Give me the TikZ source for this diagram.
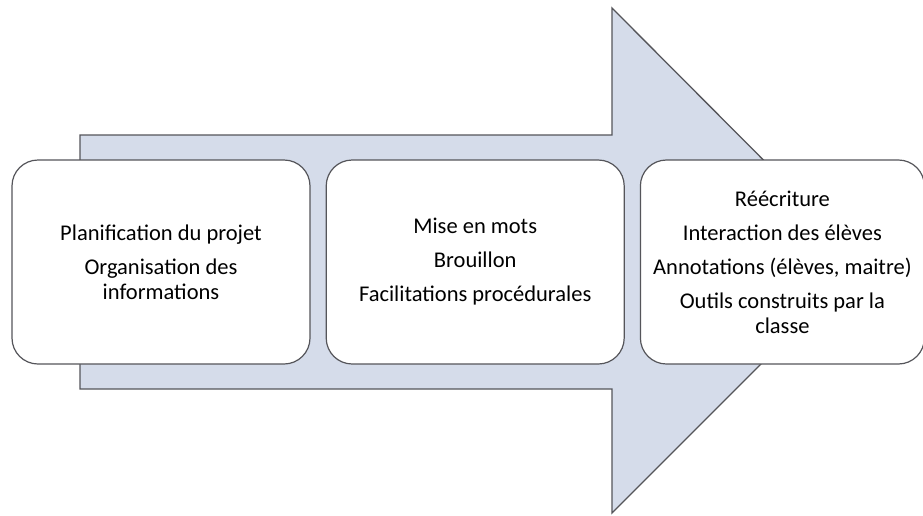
\documentclass[tikz,border=0pt]{standalone}
\usepackage{fontspec}
\setmainfont{Carlito}
\usepackage{xcolor}
\usepackage{tikz}
\usetikzlibrary{positioning}
\definecolor{arrowfill}{RGB}{213,220,234}
\definecolor{edgegray}{RGB}{85,85,90}
\tikzset{
  bigarrow/.style={fill=arrowfill,draw=edgegray,line width=1.3pt,line join=miter},
  stagebox/.style={draw=edgegray,fill=white,line width=1.2pt,rounded corners=26pt,minimum height=204pt,inner sep=0pt,align=center,font=\fontsize{22.5}{25}\selectfont}
}

\begin{document}
\begin{tikzpicture}[x=1pt,y=-1pt]
    \useasboundingbox (0,0) rectangle (923,515);
    % the arrow behind the boxes
    \draw[bigarrow] (80,135) -- (612,135) -- (612,8) -- (864,261) -- (612,513) -- (612,389) -- (80,389) -- cycle;
    % stages
    \node[stagebox,minimum width=298pt] (plan) at (161,262) {Planification du projet\\[9pt]Organisation des\\informations};
    \node[stagebox,minimum width=298pt,right=15pt of plan] (mise) {Mise en mots\\[9pt]Brouillon\\[9pt]Facilitations procédurales};
    \node[stagebox,minimum width=284pt,right=15pt of mise] (reecr) {Réécriture\\[9pt]Interaction des élèves\\[9pt]Annotations (élèves, maitre)\\[9pt]Outils construits par la\\classe};
\end{tikzpicture}
\end{document}
